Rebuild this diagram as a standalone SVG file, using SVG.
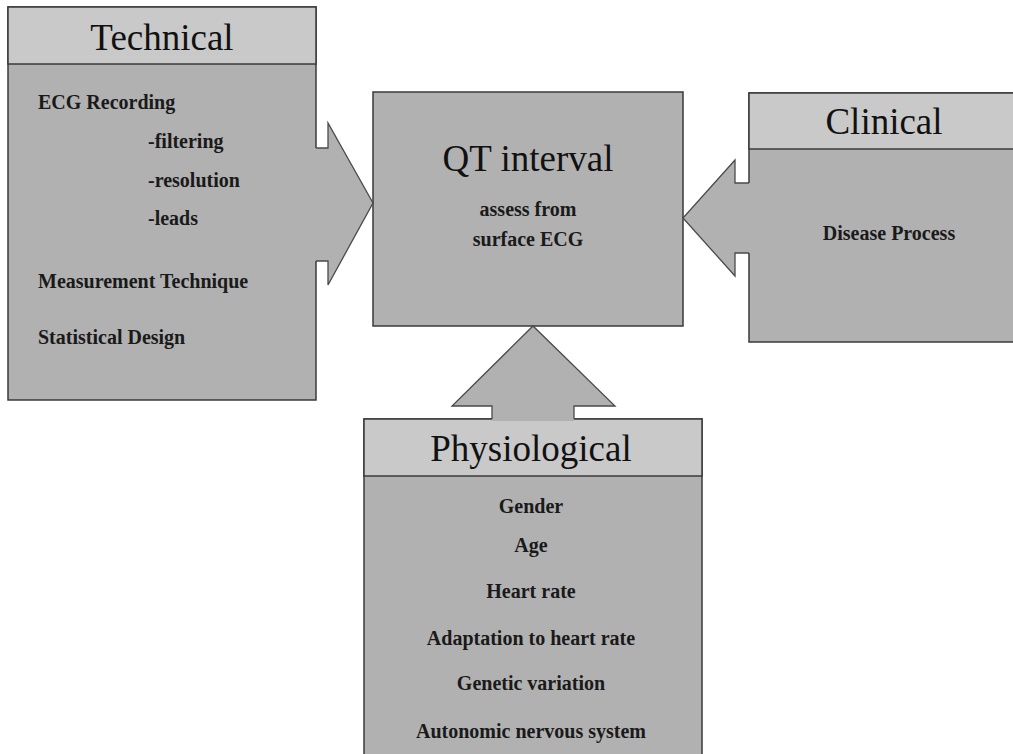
<svg xmlns="http://www.w3.org/2000/svg" width="1013" height="754" viewBox="0 0 1013 754">
<style>
.body{fill:#b1b1b1;stroke:#3a3a3a;stroke-width:1.5}
.head{fill:#c9c9c9;stroke:#3a3a3a;stroke-width:1.5}
.afill{fill:#b1b1b1;stroke:none}
.aline{fill:none;stroke:#4a4a4a;stroke-width:1.3;stroke-linejoin:miter}
.title{font-family:"Liberation Serif","Times New Roman",serif;font-size:37px;fill:#111}
.item{font-family:"Liberation Serif","Times New Roman",serif;font-size:20px;font-weight:bold;fill:#1a1a1a}
.c{text-anchor:middle}
</style>
<rect width="1013" height="754" fill="#fff"/>
<g id="technical">
<rect class="body" x="8" y="7" width="308" height="393"/>
<rect class="head" x="8" y="7" width="308" height="57"/>
<text class="title c" x="162" y="50">Technical</text>
<text class="item" x="38" y="109">ECG Recording</text>
<text class="item" x="148" y="148">-filtering</text>
<text class="item" x="148" y="187">-resolution</text>
<text class="item" x="148" y="225">-leads</text>
<text class="item" x="38" y="288">Measurement Technique</text>
<text class="item" x="38" y="344">Statistical Design</text>
</g>
<g id="qt">
<rect class="body" x="373" y="92" width="310" height="234"/>
<text class="title c" x="528" y="171">QT interval</text>
<text class="item c" x="528" y="216">assess from</text>
<text class="item c" x="528" y="246">surface ECG</text>
</g>
<g id="clinical">
<rect class="body" x="749" y="93" width="270" height="249"/>
<rect class="head" x="749" y="93" width="270" height="56"/>
<text class="title c" x="884" y="134">Clinical</text>
<text class="item c" x="889" y="240">Disease Process</text>
</g>
<g id="physiological">
<rect class="body" x="364" y="419" width="338" height="345"/>
<rect class="head" x="364" y="419" width="338" height="57"/>
<text class="title c" x="531" y="461">Physiological</text>
<text class="item c" x="531" y="513">Gender</text>
<text class="item c" x="531" y="552">Age</text>
<text class="item c" x="531" y="598">Heart rate</text>
<text class="item c" x="531" y="645">Adaptation to heart rate</text>
<text class="item c" x="531" y="690">Genetic variation</text>
<text class="item c" x="531" y="738">Autonomic nervous system</text>
</g>
<g id="connectors">
<polygon class="afill" points="314,148 328,148 328,123 373,203 328,285 328,261 314,261"/>
<polyline class="aline" points="316,148 328,148 328,123 373,203 328,285 328,261 316,261"/>
<polygon class="afill" points="751,183 735,183 735,160 683,218 735,276 735,253 751,253"/>
<polyline class="aline" points="749,183 735,183 735,160 683,218 735,276 735,253 749,253"/>
<polygon class="afill" points="492,421 492,406 452,406 533,326 615,406 574,406 574,421"/>
<polyline class="aline" points="492,419 492,406 452,406 533,326 615,406 574,406 574,419"/>
</g>
</svg>
